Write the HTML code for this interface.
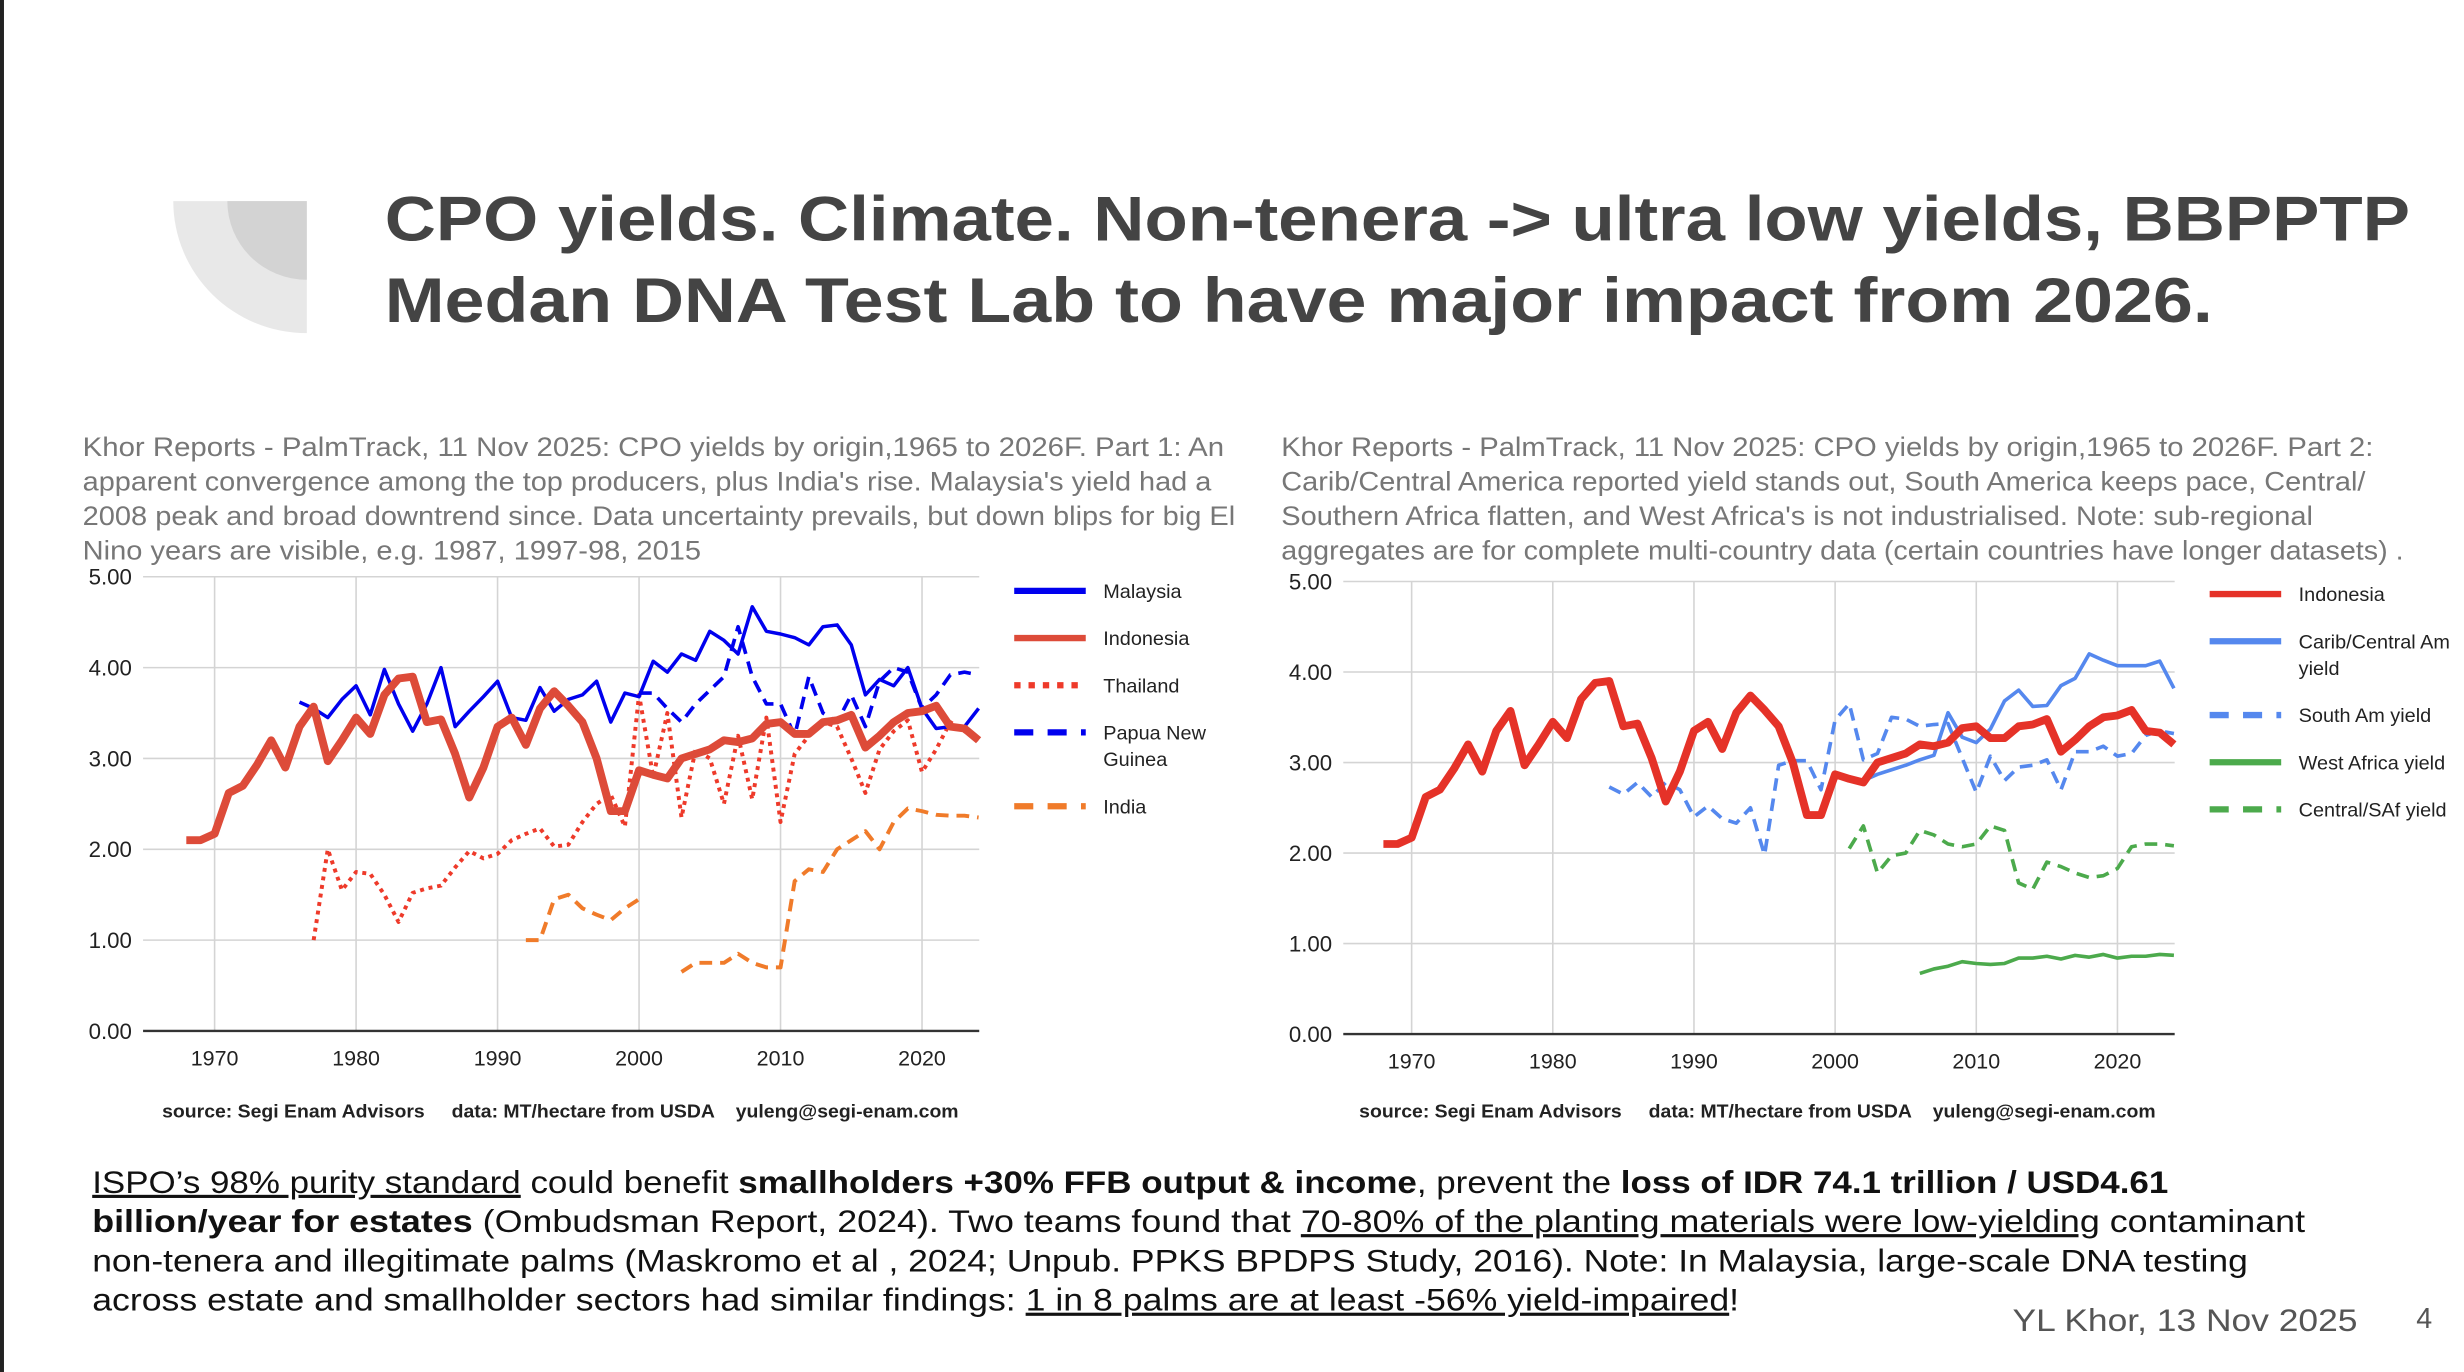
<!DOCTYPE html>
<html><head><meta charset="utf-8"><style>
html,body{margin:0;padding:0;background:#fff;overflow:hidden}
svg{display:block}
text{font-family:"Liberation Sans",sans-serif}
</style></head><body>
<svg id="root" width="2464" height="1372" viewBox="0 0 1550 873" preserveAspectRatio="none" xmlns="http://www.w3.org/2000/svg">
<rect x="0" y="0" width="1550" height="873" fill="#fff"/>
<rect x="0" y="0" width="2.5" height="873" fill="#222"/>
<path d="M109,128 H193 V212 A84,84 0 0 1 109,128 Z" fill="#e8e8e8"/>
<path d="M143,128 H193 V178 A50,50 0 0 1 143,128 Z" fill="#d3d3d3"/>
<g fill="#444" font-weight="bold" font-size="40">
<text x="242" y="153" textLength="1274" lengthAdjust="spacingAndGlyphs">CPO yields. Climate. Non-tenera -&gt; ultra low yields, BBPPTP</text>
<text x="242" y="205" textLength="1150" lengthAdjust="spacingAndGlyphs">Medan DNA Test Lab to have major impact from 2026.</text>
</g>
<g fill="#777" font-size="17">
<text x="52" y="290" textLength="718" lengthAdjust="spacingAndGlyphs">Khor Reports - PalmTrack, 11 Nov 2025: CPO yields by origin,1965 to 2026F. Part 1: An</text>
<text x="52" y="312" textLength="710" lengthAdjust="spacingAndGlyphs">apparent convergence among the top producers, plus India's rise. Malaysia's yield had a</text>
<text x="52" y="334" textLength="725" lengthAdjust="spacingAndGlyphs">2008 peak and broad downtrend since. Data uncertainty prevails, but down blips for big El</text>
<text x="52" y="356" textLength="389" lengthAdjust="spacingAndGlyphs">Nino years are visible, e.g. 1987, 1997-98, 2015</text>
</g>
<g fill="#777" font-size="17">
<text x="806" y="290" textLength="687" lengthAdjust="spacingAndGlyphs">Khor Reports - PalmTrack, 11 Nov 2025: CPO yields by origin,1965 to 2026F. Part 2:</text>
<text x="806" y="312" textLength="682" lengthAdjust="spacingAndGlyphs">Carib/Central America reported yield stands out, South America keeps pace, Central/</text>
<text x="806" y="334" textLength="649" lengthAdjust="spacingAndGlyphs">Southern Africa flatten, and West Africa's is not industrialised. Note: sub-regional</text>
<text x="806" y="356" textLength="706" lengthAdjust="spacingAndGlyphs">aggregates are for complete multi-country data (certain countries have longer datasets) .</text>
</g>
<g id="leftChart"></g>
<g id="rightChart"></g>
<g fill="#222" font-size="12" font-weight="bold">
<text x="102" y="711" textLength="501" lengthAdjust="spacingAndGlyphs">source: Segi Enam Advisors &#160;&#160;&#160;&#160;data: MT/hectare from USDA &#160;&#160;&#160;yuleng@segi-enam.com</text>
</g>
<g fill="#222" font-size="12" font-weight="bold">
<text x="855" y="711" textLength="501" lengthAdjust="spacingAndGlyphs">source: Segi Enam Advisors &#160;&#160;&#160;&#160;data: MT/hectare from USDA &#160;&#160;&#160;yuleng@segi-enam.com</text>
</g>
<g fill="#111" font-size="20">
<text x="58" y="759" textLength="1306" lengthAdjust="spacingAndGlyphs"><tspan text-decoration="underline">ISPO’s 98% purity standard</tspan> could benefit <tspan font-weight="bold">smallholders +30% FFB output &amp; income</tspan>, prevent the <tspan font-weight="bold">loss of IDR 74.1 trillion / USD4.61</tspan></text>
<text x="58" y="784" textLength="1392" lengthAdjust="spacingAndGlyphs"><tspan font-weight="bold">billion/year for estates</tspan> (Ombudsman Report, 2024). Two teams found that <tspan text-decoration="underline">70-80% of the planting materials were low-yielding</tspan> contaminant</text>
<text x="58" y="809" textLength="1356" lengthAdjust="spacingAndGlyphs">non-tenera and illegitimate palms (Maskromo et al , 2024; Unpub. PPKS BPDPS Study, 2016). Note: In Malaysia, large-scale DNA testing</text>
<text x="58" y="834" textLength="1036" lengthAdjust="spacingAndGlyphs">across estate and smallholder sectors had similar findings: <tspan text-decoration="underline">1 in 8 palms are at least -56% yield-impaired</tspan>!</text>
</g>
<text x="1266" y="847" font-size="20" fill="#555" textLength="217" lengthAdjust="spacingAndGlyphs">YL Khor, 13 Nov 2025</text>
<text x="1520" y="845" font-size="18" fill="#555">4</text>
</svg>
<script>
const NS = "http://www.w3.org/2000/svg";
const yTicks = [0, 1, 2, 3, 4, 5];
const yTickLabels = ["0.00", "1.00", "2.00", "3.00", "4.00", "5.00"];
const xTicks = [1970, 1980, 1990, 2000, 2010, 2020];
const indonesiaStart = 1968;
const indonesia = [2.1,2.1,2.17,2.62,2.7,2.93,3.2,2.9,3.35,3.57,2.97,3.2,3.45,3.27,3.7,3.88,3.9,3.4,3.43,3.05,2.57,2.9,3.35,3.45,3.15,3.55,3.74,3.58,3.4,3.0,2.42,2.42,2.87,2.82,2.78,3.0,3.05,3.1,3.2,3.18,3.22,3.38,3.4,3.27,3.27,3.4,3.42,3.48,3.12,3.25,3.4,3.5,3.52,3.58,3.35,3.33,3.2];
const malaysiaStart = 1976;
const malaysia = [3.62,3.55,3.45,3.65,3.8,3.48,3.98,3.6,3.3,3.6,4.0,3.35,3.52,3.68,3.85,3.45,3.42,3.78,3.52,3.65,3.7,3.85,3.4,3.72,3.68,4.07,3.95,4.15,4.08,4.4,4.3,4.15,4.67,4.4,4.37,4.33,4.25,4.45,4.47,4.25,3.7,3.87,3.8,4.0,3.55,3.33,3.35,3.35,3.55];
const pngStart = 2000;
const png = [3.72,3.72,3.55,3.4,3.6,3.75,3.9,4.45,3.9,3.6,3.6,3.25,3.9,3.5,3.4,3.7,3.35,3.85,4.0,3.95,3.55,3.7,3.92,3.95,3.92];
const thailandStart = 1977;
const thailand = [1.0,2.0,1.55,1.75,1.73,1.5,1.2,1.52,1.57,1.6,1.8,1.98,1.9,1.95,2.1,2.17,2.23,2.03,2.05,2.3,2.5,2.6,2.25,3.7,2.8,3.5,2.35,3.1,3.0,2.5,3.25,2.55,3.45,2.3,3.05,3.25,3.4,3.35,3.0,2.62,3.1,3.3,3.42,2.85,3.1,3.4,3.3,3.2];
const indiaStart = 1992;
const india = [1.0,1.0,1.45,1.5,1.35,1.28,1.22,1.35,1.45,null,null,0.65,0.75,0.75,0.75,0.85,0.75,0.7,0.7,1.65,1.78,1.75,2.0,2.1,2.2,2.0,2.3,2.45,2.42,2.38,2.37,2.37,2.35];
const caribStart = 2002;
const carib = [2.8,2.87,2.92,2.97,3.03,3.08,3.55,3.28,3.22,3.37,3.68,3.8,3.62,3.63,3.85,3.93,4.2,4.13,4.07,4.07,4.07,4.12,3.82];
const southAmStart = 1984;
const southAm = [2.73,2.65,2.78,2.62,2.78,2.7,2.4,2.52,2.38,2.33,2.5,1.98,2.97,3.02,3.02,2.7,3.47,3.65,3.03,3.1,3.5,3.48,3.4,3.42,3.43,3.05,2.67,3.07,2.8,2.95,2.97,3.03,2.7,3.12,3.12,3.18,3.07,3.1,3.3,3.35,3.32];
const westAfricaStart = 2006;
const westAfrica = [0.67,0.72,0.75,0.8,0.78,0.77,0.78,0.84,0.84,0.86,0.83,0.87,0.85,0.88,0.84,0.86,0.86,0.88,0.87];
const centralSAfStart = 2001;
const centralSAf = [2.05,2.3,1.78,1.97,2.0,2.25,2.2,2.1,2.07,2.1,2.3,2.25,1.67,1.6,1.9,1.85,1.78,1.73,1.75,1.83,2.07,2.1,2.1,2.08];

function mk(tag, attrs, parent){
  const el = document.createElementNS(NS, tag);
  for (const k in attrs) el.setAttribute(k, attrs[k]);
  parent.appendChild(el);
  return el;
}

function buildChart(g, cfg){
  const xs = yr => cfg.x1970 + (yr - 1970) * cfg.perYear;
  const ys = v => cfg.y0 - v * (cfg.y0 - cfg.y5) / 5;
  xTicks.forEach(t => {
    const l = mk("line", {x1: xs(t), x2: xs(t), y1: ys(5), y2: ys(0), stroke: "#d4d4d4", "stroke-width": 1}, g);
    
    
    const tx = mk("text", {x: xs(t), y: ys(0) + 22, "text-anchor": "middle", "font-size": 13.5, fill: "#222"}, g);
    tx.textContent = t;
    
    
  });
  yTicks.forEach((t, i) => {
    const l = mk("line", {x1: cfg.left, x2: cfg.right, y1: ys(t), y2: ys(t), stroke: t === 0 ? "#333" : "#d4d4d4", "stroke-width": t === 0 ? 1.5 : 1}, g);
    
    
    const tx = mk("text", {x: cfg.left - 7, y: ys(t) + 5, "text-anchor": "end", "font-size": 14, fill: "#222"}, g);
    tx.textContent = yTickLabels[i];
    
    
  });
  cfg.series.forEach(s => {
    let d = "", pen = false;
    s.data.forEach((v, i) => {
      if (v === null || v === undefined) { pen = false; return; }
      d += (pen ? "L" : "M") + xs(s.start + i).toFixed(2) + "," + ys(v).toFixed(2);
      pen = true;
    });
    const p = mk("path", {d: d, fill: "none", stroke: s.color, "stroke-width": s.width, "stroke-linejoin": "round"}, g);
    if (s.dash === "dot") p.setAttribute("stroke-dasharray", "2.5,3");
    if (s.dash === "dash") p.setAttribute("stroke-dasharray", "8,5");
    
    
  });
}

function buildLegend(g, x, ys, items){
  items.forEach((it, i) => {
    const l = mk("line", {x1: x, x2: x + 45, y1: ys[i], y2: ys[i], stroke: it[0], "stroke-width": 4}, g);
    if (it[1] === "dot") l.setAttribute("stroke-dasharray", "4,5");
    if (it[1] === "dash") l.setAttribute("stroke-dasharray", "12,9");
    
    
    it[2].forEach((ln, j) => {
      const tx = mk("text", {x: x + 56, y: ys[i] + 4.5 + j * 17, "font-size": 12.5, fill: "#222"}, g);
      tx.textContent = ln;
      
      
    });
  });
}

const leftG = document.getElementById("leftChart");
buildChart(leftG, {
  x1970: 135, perYear: 8.9, y0: 656, y5: 367, left: 90, right: 616,
  series: [
    {name: "thailand", data: thailand, start: thailandStart, color: "#ee3a2a", width: 2.5, dash: "dot"},
    {name: "india", data: india, start: indiaStart, color: "#f07b2a", width: 2.5, dash: "dash"},
    {name: "png", data: png, start: pngStart, color: "#0000ee", width: 2.3, dash: "dash"},
    {name: "malaysia", data: malaysia, start: malaysiaStart, color: "#0000ee", width: 2.2, dash: null},
    {name: "indonesia", data: indonesia, start: indonesiaStart, color: "#dd4b39", width: 5, dash: null}
  ]
});
buildLegend(leftG, 638, [376, 406, 436, 466, 513], [
  ["#0000ee", null, ["Malaysia"]], ["#dd4b39", null, ["Indonesia"]], ["#ee3a2a", "dot", ["Thailand"]],
  ["#0000ee", "dash", ["Papua New", "Guinea"]], ["#f07b2a", "dash", ["India"]]
]);

const rightG = document.getElementById("rightChart");
buildChart(rightG, {
  x1970: 888, perYear: 8.88, y0: 658, y5: 370, left: 845, right: 1368,
  series: [
    {name: "central-saf", data: centralSAf, start: centralSAfStart, color: "#4caa4c", width: 2.3, dash: "dash"},
    {name: "west-africa", data: westAfrica, start: westAfricaStart, color: "#4caa4c", width: 2.3, dash: null},
    {name: "south-am", data: southAm, start: southAmStart, color: "#5588ee", width: 2.3, dash: "dash"},
    {name: "carib-central-am", data: carib, start: caribStart, color: "#5588ee", width: 2.3, dash: null},
    {name: "indonesia", data: indonesia, start: indonesiaStart, color: "#e53228", width: 5, dash: null}
  ]
});
buildLegend(rightG, 1390, [378, 408, 455, 485, 515], [
  ["#e53228", null, ["Indonesia"]], ["#5588ee", null, ["Carib/Central Am", "yield"]], ["#5588ee", "dash", ["South Am yield"]],
  ["#4caa4c", null, ["West Africa yield"]], ["#4caa4c", "dash", ["Central/SAf yield"]]
]);
</script>
</body></html>
